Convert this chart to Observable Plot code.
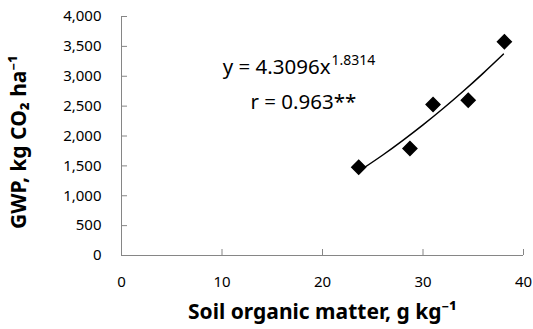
<!DOCTYPE html>
<html>
<head>
<meta charset="utf-8">
<script src="https://cdn.jsdelivr.net/npm/d3@7"></script>
<script src="https://cdn.jsdelivr.net/npm/@observablehq/plot@0.6"></script>
<style>
  html, body { margin: 0; padding: 0; background: white; }
  svg { display: block; }
</style>
</head>
<body>
<div id="chart"></div>
<script>
// Observed points
const somValues = [23.6, 28.7, 31.0, 34.5, 38.1];
const gwpValues = [1478, 1791, 2527, 2599, 3577];

const trendX = [24, 26, 28, 30, 32, 34, 36, 38];
const trendY = [1453, 1682, 1927, 2186, 2460, 2749, 3053, 3370];

// Axis ticks
const xTicks = [0, 10, 20, 30, 40];
const yTicks = [0, 500, 1000, 1500, 2000, 2500, 3000, 3500, 4000];

// Text
const xTitle = "Soil organic matter, g kg⁻¹";
const yTitle = "GWP, kg CO₂ ha⁻¹";
const eqBase = "y = 4.3096x";
const eqExp = "1.8314";
const rText = "r = 0.963**";

const points = somValues.map((x, i) => ({x, y: gwpValues[i]}));
const trend = trendX.map((x, i) => ({x, y: trendY[i]}));

const axisColor = "#868686";

const chart = Plot.plot({
  width: 533,
  height: 329,
  marginLeft: 121,
  marginRight: 10,
  marginTop: 16,
  marginBottom: 74,
  x: {domain: [0, 40]},
  y: {domain: [0, 4000]},
  style: {fontFamily: "Noto Sans", fontSize: "15px", color: "black", background: "white"},
  marks: [
    Plot.axisY({ticks: yTicks, tickSize: 0, tickPadding: 20, tickFormat: d3.format(","), label: null, fontSize: 15}),
    Plot.axisX({ticks: xTicks, tickSize: 0, tickPadding: 21, label: null, fontSize: 15}),
    Plot.ruleY(yTicks, {x1: 0, x2: 0.6, stroke: axisColor}),
    Plot.ruleX(xTicks, {y1: 0, y2: 100, stroke: axisColor}),
    Plot.ruleX([0], {stroke: axisColor}),
    Plot.ruleY([0], {stroke: axisColor}),
    Plot.line(trend, {x: "x", y: "y", curve: "natural", stroke: "black", strokeWidth: 1.5}),
    Plot.dot(points, {x: "x", y: "y", symbol: "diamond2", r: 6.2, fill: "black", stroke: "black"}),
    Plot.text([eqBase], {x: 20.8, y: 3150, text: d => d, textAnchor: "end", fontSize: 20.5}),
    Plot.text([eqExp], {x: 20.8, y: 3150, text: d => d, textAnchor: "start", dx: 1, dy: -7, fontSize: 14}),
    Plot.text([rText], {x: 18.1, y: 2555, text: d => d, fontSize: 20.5}),
    Plot.text([xTitle], {frameAnchor: "bottom", dy: 63, dx: 0, text: d => d, fontSize: 21, fontWeight: "bold"}),
    Plot.text([yTitle], {frameAnchor: "left", textAnchor: "middle", dx: -102, dy: 6, rotate: -90, text: d => d, fontSize: 21, fontWeight: "bold"})
  ]
});
document.getElementById("chart").appendChild(chart);
</script>
</body>
</html>
